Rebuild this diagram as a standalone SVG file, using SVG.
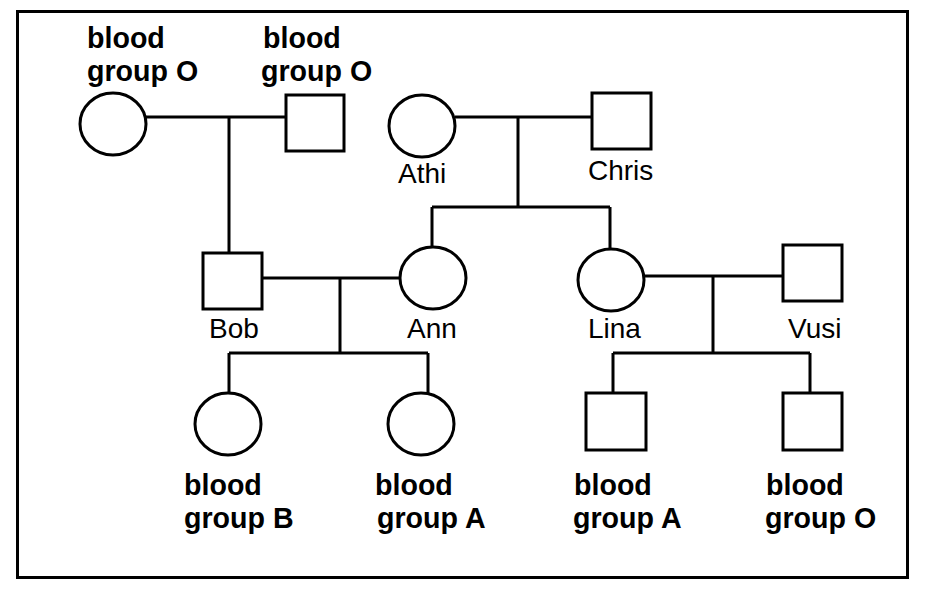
<svg xmlns="http://www.w3.org/2000/svg" width="928" height="590" viewBox="0 0 928 590">
<style>
.s{fill:#fff;stroke:#000;stroke-width:3}
.c{fill:none;stroke:#000;stroke-width:3}
.b{font-family:"Liberation Sans",Arial,sans-serif;font-weight:bold;font-size:28.6px;fill:#000}
.n{font-family:"Liberation Sans",Arial,sans-serif;font-size:28px;fill:#000}
</style>
<rect x="0" y="0" width="928" height="590" fill="#fff"/>
<rect x="17.5" y="11.5" width="890" height="566" class="c"/>
<g id="connectors" class="c">
<path d="M146 117H286M229 117V253"/>
<path d="M455 117H592M518 117V207M432 207H610M432 207V247M610 207V248"/>
<path d="M262 278H400M340 278V353M229 353H428M229 353V393M428 353V393"/>
<path d="M644 276H783M713 276V353M613 353H810M613 353V393M810 353V393"/>
</g>
<g id="gp1"><ellipse cx="113" cy="124" rx="33" ry="31" class="s"/><text class="b" x="87" y="48">blood</text><text class="b" x="87" y="81">group O</text></g>
<g id="gp2"><rect x="286" y="95" width="58" height="56" class="s"/><text class="b" x="263" y="48">blood</text><text class="b" x="261" y="81">group O</text></g>
<g id="athi"><ellipse cx="422" cy="126" rx="33" ry="31" class="s"/><text class="n" x="398" y="183">Athi</text></g>
<g id="chris"><rect x="592" y="93" width="59" height="56" class="s"/><text class="n" x="588" y="180">Chris</text></g>
<g id="bob"><rect x="203" y="253" width="59" height="56" class="s"/><text class="n" x="209" y="338">Bob</text></g>
<g id="ann"><ellipse cx="433" cy="278" rx="33" ry="31" class="s"/><text class="n" x="407" y="338">Ann</text></g>
<g id="lina"><ellipse cx="611" cy="280" rx="33" ry="31" class="s"/><text class="n" x="588" y="338">Lina</text></g>
<g id="vusi"><rect x="783" y="245" width="59" height="56" class="s"/><text class="n" x="788" y="338">Vusi</text></g>
<g id="c1"><ellipse cx="228" cy="424" rx="33" ry="31" class="s"/><text class="b" x="184" y="495">blood</text><text class="b" x="184" y="528">group B</text></g>
<g id="c2"><ellipse cx="421" cy="424" rx="33" ry="31" class="s"/><text class="b" x="375" y="495">blood</text><text class="b" x="377" y="528">group A</text></g>
<g id="c3"><rect x="586" y="393" width="60" height="57" class="s"/><text class="b" x="574" y="495">blood</text><text class="b" x="573" y="528">group A</text></g>
<g id="c4"><rect x="783" y="393" width="59" height="57" class="s"/><text class="b" x="766" y="495">blood</text><text class="b" x="765" y="528">group O</text></g>
</svg>
